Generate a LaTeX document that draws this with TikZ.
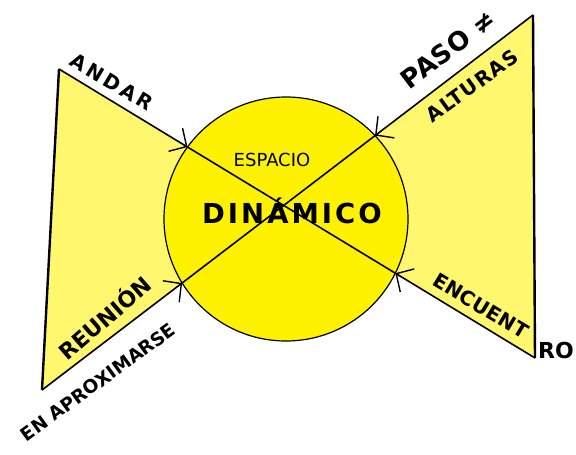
\documentclass[tikz,border=0pt]{standalone}
\usepackage{fontspec}
\usetikzlibrary{calc,intersections,arrows.meta}
\newfontfamily\hand{DejaVu Sans}
\definecolor{paleyellow}{RGB}{255,247,110}
\definecolor{brightyellow}{RGB}{255,242,0}

\begin{document}
\begin{tikzpicture}[x=1pt,y=-1pt,
    lbl/.style n args={2}{inner sep=0pt,
      font=\hand\bfseries\fontsize{#1}{#1}\selectfont\addfontfeature{LetterSpace=#2}},
    diag/.style={line width=1.6pt},
    barb/.style={diag,-{Straight Barb[length=13pt,width=27pt,line width=1.4pt]}}]
    \useasboundingbox (0,0) rectangle (576,455);
    \coordinate (lt) at (59,69);
    \coordinate (lb) at (42,390);
    \coordinate (rt) at (533,15);
    \coordinate (rb) at (535,358);
    \coordinate (o) at (286,219);
    \coordinate (x) at (intersection of lt--rb and rt--lb);
    \path[name path=ring] (o) circle (122);
    \path[name path=d1] (lt) -- (rb);
    \path[name path=d2] (rt) -- (lb);
    \path[name intersections={of=d1 and ring, sort by=d1, by={p1,p4}}];
    \path[name intersections={of=d2 and ring, sort by=d2, by={p2,p3}}];
    % wings
    \fill[paleyellow] (lt) -- (lb) -- (x) -- cycle;
    \fill[paleyellow] (rt) -- (rb) -- (x) -- cycle;
    % centre
    \filldraw[fill=brightyellow, line width=1.2pt] (o) circle (122);
    \draw[line width=2.4pt] (lt) -- (lb);
    \draw[line width=2.4pt] (rt) -- (rb);
    \draw[barb] (lt) -- (p1);
    \draw[barb] (rb) -- (p4);
    \draw[barb] (rt) -- (p2);
    \draw[barb] (lb) -- (p3);
    \draw[diag] (p1) -- (p4);
    \draw[diag] (p2) -- (p3);
    % labels
    \node[lbl={20}{15}, rotate=-31] (andar) at (112,82) {ANDAR};
    \node[lbl={26}{3}, rotate=37] (paso) at (448,49) {PASO ≠};
    \node[lbl={20}{6}, rotate=36] (alturas) at (472,86) {ALTURAS};
    \node[inner sep=0pt, font=\hand\fontsize{18}{18}\selectfont] (espacio) at (272,160) {ESPACIO};
    \node[lbl={27.5}{11}] (dinamico) at (292,211) {DINÁMICO};
    \node[lbl={20}{1}, rotate=-31] (encuent) at (481,306) {ENCUENT};
    \node[lbl={22}{0}] (ro) at (556,350) {RO};
    \node[lbl={22}{0}, rotate=41] (reunion) at (104,317) {REUNIÓN};
    \node[lbl={18.5}{0}, rotate=36] (aprox) at (98,382) {EN APROXIMARSE};
\end{tikzpicture}
\end{document}
